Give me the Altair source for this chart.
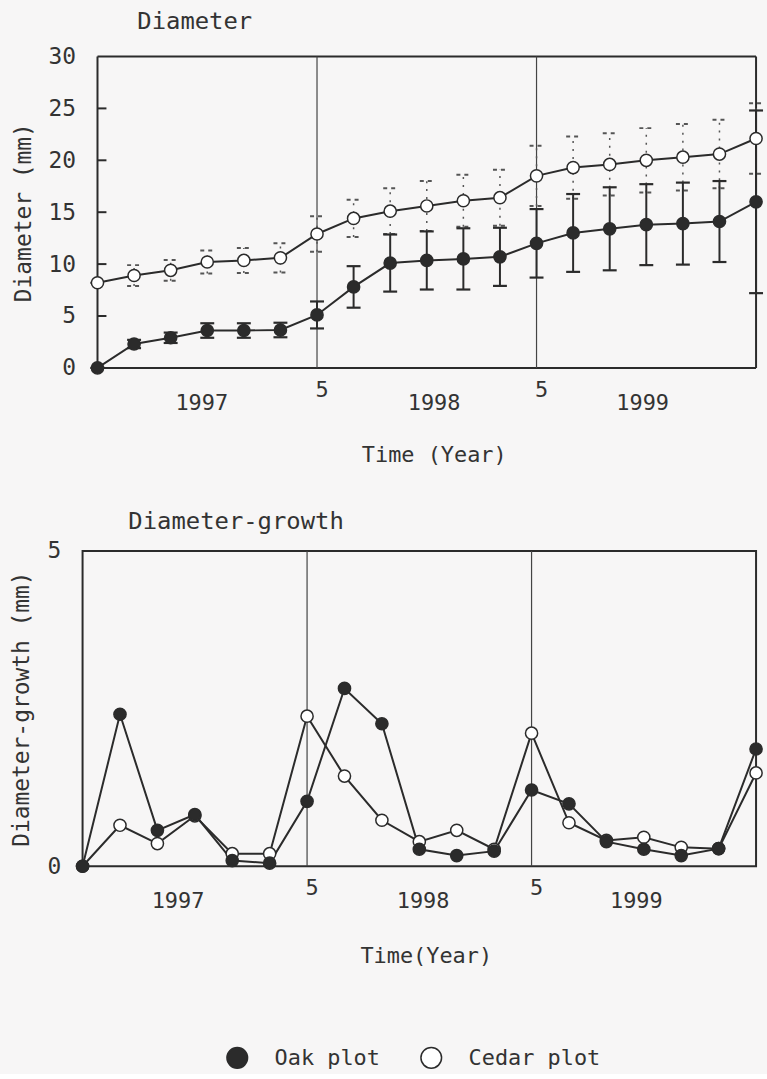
import altair as alt
import pandas as pd

# ---------------- data ----------------
idx = list(range(19))  # sampling occasions (every 2 months, May 1997 .. )
series = ["Oak plot", "Cedar plot"]

oak_diam = [0, 2.3, 2.9, 3.6, 3.6, 3.65, 5.1, 7.8, 10.1, 10.35, 10.5, 10.7,
            12.0, 13.0, 13.4, 13.8, 13.9, 14.1, 16.0]
oak_sd = [0, 0.4, 0.5, 0.7, 0.7, 0.7, 1.3, 2.0, 2.75, 2.8, 2.95, 2.8,
          3.3, 3.75, 4.0, 3.9, 3.95, 3.9, 8.8]
cedar_diam = [8.2, 8.9, 9.4, 10.2, 10.35, 10.6, 12.9, 14.4, 15.1, 15.6, 16.1, 16.4,
              18.5, 19.3, 19.6, 20.0, 20.3, 20.6, 22.1]
cedar_sd = [0, 1.0, 1.0, 1.1, 1.2, 1.4, 1.7, 1.8, 2.2, 2.4, 2.5, 2.7,
            2.9, 3.0, 3.0, 3.1, 3.2, 3.3, 3.4]

oak_growth = [0, 2.41, 0.57, 0.82, 0.09, 0.05, 1.03, 2.82, 2.26, 0.27, 0.17, 0.24,
              1.21, 0.99, 0.39, 0.27, 0.17, 0.28, 1.86]
cedar_growth = [0, 0.65, 0.36, 0.80, 0.2, 0.2, 2.38, 1.43, 0.73, 0.39, 0.57, 0.27,
                2.11, 0.69, 0.41, 0.46, 0.3, 0.28, 1.48]

diam_ticks = [0, 5, 10, 15, 20, 25, 30]
diam_inner_ticks = [5, 10, 15, 20, 25]
growth_ticks = [0, 5]
may_pos = [6, 12]
may_label = ["5", "5"]
year_pos_top = [2.85, 9.2, 14.9]
year_pos_bottom = [2.55, 9.1, 14.8]
year_label = ["1997", "1998", "1999"]

# ---------------- style ----------------
FONT = "DejaVu Sans Mono"
INK = "#2b2b2b"
TXT = "#333333"
BG = "#f7f6f6"
W = 677

top_df = pd.DataFrame({
    "idx": idx * 2,
    "series": [series[0]] * 19 + [series[1]] * 19,
    "value": oak_diam + cedar_diam,
    "sd": oak_sd + cedar_sd,
})
top_df["lo"] = top_df["value"] - top_df["sd"]
top_df["hi"] = top_df["value"] + top_df["sd"]

bot_df = pd.DataFrame({
    "idx": idx * 2,
    "series": [series[0]] * 19 + [series[1]] * 19,
    "value": oak_growth + cedar_growth,
})

may_df = pd.DataFrame({"pos": may_pos, "label": may_label})

fill_scale = alt.Scale(domain=series, range=[INK, "white"])
legend = alt.Legend(
    orient="none", legendX=144, legendY=995, direction="horizontal", title=None,
    labelFont=FONT, labelFontSize=22, labelColor=TXT, symbolSize=430,
    symbolStrokeColor=INK, symbolStrokeWidth=1.5, symbolType="circle",
    columnPadding=38, labelOffset=26, padding=0,
)


def panel(df, height, xmin, ydomain, yticks, inner_ticks, ytitle, xtitle,
          title, title_dx, title_offset, axis_shift, xtitle_x, xtitle_pad,
          year_pos, with_err, framed):
    xs = alt.Scale(domain=[xmin, 18], nice=False, zero=False)
    ys = alt.Scale(domain=ydomain, nice=False, zero=False)
    X = alt.X("idx:Q", scale=xs, axis=alt.Axis(
        labels=False, ticks=False, domain=False, grid=False, title=xtitle,
        titleFont=FONT, titleFontSize=22, titleFontWeight="normal",
        titleColor=TXT, titlePadding=xtitle_pad, titleX=xtitle_x))
    Y = alt.Y("value:Q", scale=ys, axis=alt.Axis(
        values=yticks, format="d", ticks=False, domain=False, grid=False,
        title=ytitle, offset=axis_shift,
        labelFont=FONT, labelFontSize=23, labelColor=TXT, labelPadding=22,
        titleFont=FONT, titleFontSize=23, titleFontWeight="normal",
        titleColor=TXT, titlePadding=13))

    layers = []
    if framed:
        # frame of the plotting box drawn on the data scale
        fr = pd.DataFrame({"x0": [0, 18, 0, 0], "x1": [0, 18, 18, 18],
                           "y0": [ydomain[0], ydomain[0], ydomain[0], ydomain[1]],
                           "y1": [ydomain[1], ydomain[1], ydomain[0], ydomain[1]]})
        layers.append(alt.Chart(fr).mark_rule(color=INK, strokeWidth=2).encode(
            x=alt.X("x0:Q", scale=xs), x2="x1:Q",
            y=alt.Y("y0:Q", scale=ys), y2="y1:Q"))
    vr = alt.Chart(may_df).mark_rule(color="#444444", strokeWidth=1.2).encode(
        x=alt.X("pos:Q", scale=xs))
    layers.append(vr)
    if inner_ticks:
        tk = alt.Chart(pd.DataFrame({"v": inner_ticks, "x0": [0] * len(inner_ticks)})
                       ).mark_rule(color=INK, strokeWidth=2, x2Offset=9).encode(
            y=alt.Y("v:Q", scale=ys), x=alt.X("x0:Q", scale=xs), x2="x0:Q")
        layers.append(tk)

    base = alt.Chart(df)
    if with_err:
        ced = base.transform_filter(alt.datum.series == series[1])
        oak = base.transform_filter(alt.datum.series == series[0])
        layers.append(ced.mark_rule(color="#555555", strokeWidth=1.5,
                                    strokeDash=[2, 6]).encode(
            x=alt.X("idx:Q", scale=xs), y=alt.Y("lo:Q", scale=ys), y2="hi:Q"))
        layers.append(ced.transform_fold(["lo", "hi"], as_=["end", "cap"]).mark_rule(
            color="#555555", strokeWidth=2, strokeDash=[4, 4],
            xOffset=-7, x2Offset=7).encode(
            x=alt.X("idx:Q", scale=xs), x2="idx:Q", y=alt.Y("cap:Q", scale=ys)))
        layers.append(oak.mark_rule(color=INK, strokeWidth=2).encode(
            x=alt.X("idx:Q", scale=xs), y=alt.Y("lo:Q", scale=ys), y2="hi:Q"))
        layers.append(oak.transform_fold(["lo", "hi"], as_=["end", "cap"]).mark_rule(
            color=INK, strokeWidth=2.2, xOffset=-7, x2Offset=7).encode(
            x=alt.X("idx:Q", scale=xs), x2="idx:Q", y=alt.Y("cap:Q", scale=ys)))

    layers.append(base.mark_line(color=INK, strokeWidth=2).encode(
        x=X, y=Y, detail="series:N"))
    layers.append(base.mark_point(shape="circle", filled=True, size=150,
                                  stroke=INK, strokeWidth=1.5, opacity=1).encode(
        x=alt.X("idx:Q", scale=xs), y=alt.Y("value:Q", scale=ys),
        fill=alt.Fill("series:N", scale=fill_scale, legend=legend),
        order=alt.Order("series:N", sort="ascending")))

    year_df = pd.DataFrame({"pos": year_pos, "label": year_label})
    layers.append(alt.Chart(may_df).mark_text(
        font=FONT, fontSize=22, color=TXT, baseline="middle", align="center",
        dx=5).encode(x=alt.X("pos:Q", scale=xs), y=alt.value(height + 22),
                     text="label:N"))
    layers.append(alt.Chart(year_df).mark_text(
        font=FONT, fontSize=22, color=TXT, baseline="middle",
        align="center").encode(x=alt.X("pos:Q", scale=xs),
                               y=alt.value(height + 35), text="label:N"))

    props = dict(
        width=W, height=height,
        title=alt.TitleParams(title, anchor="start", frame="group", dx=title_dx,
                              font=FONT, fontSize=24, fontWeight="normal",
                              color=TXT, offset=title_offset),
    )
    if framed:
        props["view"] = alt.ViewBackground(stroke="transparent")
    return alt.layer(*layers).properties(**props)


# top panel: plotting box starts 15 px right of the shared left edge
shift = 15
xmin_top = -shift / ((W - shift) / 18)
top = panel(top_df, 313, xmin_top, [0, 30], diam_ticks, diam_inner_ticks,
            "Diameter (mm)", "Time (Year)", "Diameter", 40 + shift, 12, -shift,
            353, 77, year_pos_top, True, True)
bottom = panel(bot_df, 317, 0, [0, 5], growth_ticks, None,
               "Diameter-growth (mm)", "Time(Year)", "Diameter-growth", 46, 6, 0,
               345, 80, year_pos_bottom, False, False)

chart = alt.concat(top, bottom, columns=1, spacing=43).properties(
    background=BG,
    padding={"left": 10, "top": 6, "right": 0, "bottom": 0},
).configure_view(stroke=INK, strokeWidth=2)

chart.save("out.html", embed_options={"renderer": "svg", "actions": False})
